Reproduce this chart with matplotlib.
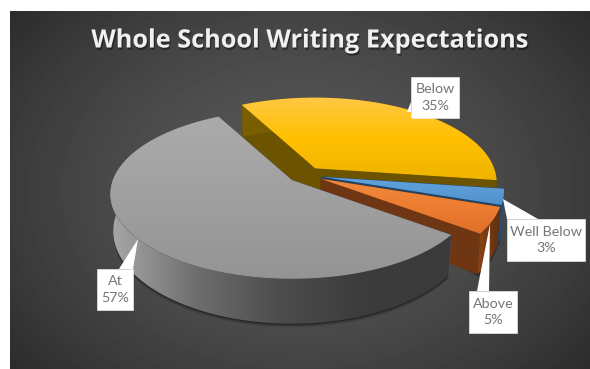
#!/usr/bin/env python3
# -*- coding: utf-8 -*-
import numpy as np
import matplotlib
matplotlib.use('Agg')
import matplotlib.pyplot as plt
import matplotlib.patheffects as pe
from matplotlib.patches import Polygon, Rectangle

# chart data
names = ['Below', 'Well Below', 'Above', 'At']
shares = [35, 3, 5, 57]
title = 'Whole School Writing Expectations'

# slice looks, same order as the data
explode = [0.10, 0.10, 0.10, 0.095]
top_cols = [['#ffc845', '#ffc000', '#f0b400'],
            ['#5fa3e0', '#5b9bd5', '#4f90cc'],
            ['#f08a3c', '#ed7d31', '#e0702a'],
            ['#ababab', '#a0a0a0', '#949494']]
wall_cols = ['#6b5300', '#1f4468', '#6e3612', '#5a5a5a']
rim_cols = [['#7a5f00', '#6b5300'],
            ['#2a5b8a', '#1f4468'],
            ['#8a4416', '#5e2e0e'],
            ['#a8a8a8', '#6e6e6e', '#4c4c4c', '#3c3c3c', '#3a3a3a']]

# pie plane in pixels
W, H = 590, 369
ox, oy = 305, 175
rx, ry = 179, 82.4
persp = 0.165
depth = 36
start_angle = 118
z = 2


def project(u, v):
    w = 1 + persp * v
    return rx * u / w, -ry * v / w


def gradient(ax, poly, colors, horizontal=False):
    # fill a polygon with a linear gradient, clipped to its outline
    global z
    x0, y0 = poly.min(axis=0)
    x1, y1 = poly.max(axis=0)
    rgb = np.array([matplotlib.colors.to_rgb(c) for c in colors])
    t = np.linspace(0, 1, 128)
    pos = np.linspace(0, 1, len(colors))
    ramp = np.stack([np.interp(t, pos, rgb[:, i]) for i in range(3)], axis=-1)
    img = ramp[None, :, :] if horizontal else ramp[:, None, :]
    im = ax.imshow(img, extent=(x0, x1, y1, y0), aspect='auto',
                   interpolation='bilinear', zorder=z)
    im.set_clip_path(Polygon(poly, closed=True, transform=ax.transData))
    z += 1


def flat(ax, poly, color):
    global z
    ax.add_patch(Polygon(poly, closed=True, fc=color, ec=color, lw=0.4, zorder=z))
    z += 1


def lower(pts, apex):
    # same outline on the underside of the pie
    out = []
    for p in pts:
        v = -(p[1] - apex[1]) / ry
        out.append((apex[0] + (p[0] - apex[0]) * 0.985,
                    p[1] + depth / (1 + persp * v)))
    return np.array(out)


fig = plt.figure(figsize=(W / 100, H / 100), dpi=100, facecolor='white')
ax = fig.add_axes([0, 0, 1, 1])
ax.set_xlim(0, W)
ax.set_ylim(H, 0)
ax.axis('off')

# radial background of the chart area
yy, xx = np.mgrid[11:H, 10:W]
dist = np.sqrt(((xx - 300) / 400.0) ** 2 + ((yy - 190) / 300.0) ** 2)
shade = np.clip(0.345 - 0.19 * dist ** 1.6, 0.14, 1)
ax.imshow(shade, cmap='gray', vmin=0, vmax=1, extent=(10, W, H, 11),
          aspect='auto', zorder=1, interpolation='bilinear')

fracs = np.array(shares) / sum(shares)
ends = start_angle - 360 * np.cumsum(fracs)
starts = ends + 360 * fracs

# build every slice outline from its share
slices = []
for i in range(len(shares)):
    a0, a1 = np.radians(starts[i]), np.radians(ends[i])
    mid = (a0 + a1) / 2
    dx, dy = project(explode[i] * np.cos(mid), explode[i] * np.sin(mid))
    apex = np.array([ox + dx, oy + dy])
    th = np.linspace(a0, a1, 160)
    arc = np.array([project(np.cos(t), np.sin(t)) for t in th]) + apex
    slices.append((apex, arc))

# soft shadow under the pie
for apex, arc in slices:
    low = lower(arc, apex)
    for grow, alpha in ((3.5, 0.12), (2.2, 0.18), (1.0, 0.3)):
        ax.add_patch(Polygon(np.vstack([apex, low + [0, grow]]), closed=True,
                             fc='black', ec='none', alpha=alpha, zorder=z))
z += 1

for i in range(len(shares)):
    apex, arc = slices[i]
    low = lower(arc, apex)
    apex_low = lower([apex], apex)[0]
    # flat walls along the two cut edges
    flat(ax, np.array([apex, arc[0], low[0], apex_low]), wall_cols[i])
    flat(ax, np.array([apex, arc[-1], low[-1], apex_low]), wall_cols[i])
    # rim band, the back part of it ends up under the top face
    gradient(ax, np.vstack([arc, low[::-1]]), rim_cols[i], horizontal=True)
    gradient(ax, np.vstack([apex, arc]), top_cols[i])

# value labels, box corners and pointer tips in pixels
boxes = [(411, 77, 48, 41), (507, 219, 78, 42), (469, 291, 48, 42), (97, 269, 36, 41)]
tips = [[(407, 112), (411, 102), (411, 112)],
        [(503, 199), (507, 219), (538, 219)],
        [(490, 224), (477, 291), (489, 291)],
        [(138, 239), (119, 269), (133, 269)]]
for i, name in enumerate(names):
    x, y, bw, bh = boxes[i]
    ax.add_patch(Polygon(tips[i], closed=True, fc='white', ec='none', zorder=z))
    ax.add_patch(Rectangle((x, y), bw, bh, fc='white', ec='#e8e8e8', lw=0.5, zorder=z))
    ax.text(x + bw / 2, y + bh / 2, '%s\n%d%%' % (name, shares[i]), ha='center', va='center',
            fontsize=10.3, family='Lato', color='#767676', linespacing=1.5, zorder=z + 1)

ax.text(309.5, 41, title, ha='center', va='center', fontsize=18.2, family='Open Sans',
        fontweight='bold', color='#f0f0f0', zorder=z + 1,
        path_effects=[pe.withSimplePatchShadow(offset=(0.8, -1.6), shadow_rgbFace='black', alpha=0.4)])

fig.savefig('out.png', dpi=100, facecolor='white')
